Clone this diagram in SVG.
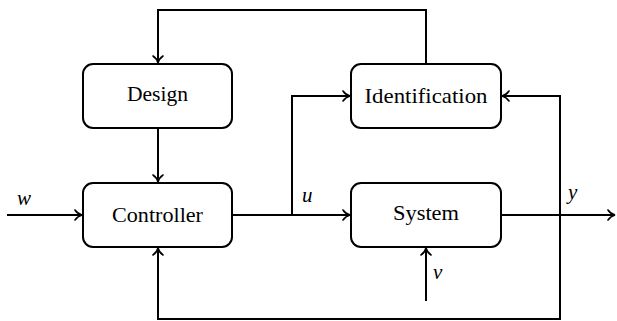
<svg xmlns="http://www.w3.org/2000/svg" width="617" height="321" viewBox="0 0 617 321">
<style>
.box{fill:#fff;stroke:#000;stroke-width:2}
.lbl{font-family:"Liberation Serif","Times New Roman","DejaVu Serif",serif;font-size:21px;fill:#000}
.math{font-family:"Liberation Serif","Times New Roman","DejaVu Serif",serif;font-size:21px;font-style:italic;fill:#000}
.c{fill:none;stroke:#000;stroke-width:2}
</style>
<defs>
<marker id="arr" viewBox="-8 -6 10 12" refX="1" refY="0" markerWidth="10" markerHeight="12" markerUnits="userSpaceOnUse" orient="auto">
<path d="M-6,-5 C-4,-2 -1,-0.5 1,0 C-1,0.5 -4,2 -6,5" fill="none" stroke="#000" stroke-width="1.6" stroke-linecap="round"/>
</marker>
</defs>
<g id="connectors">
<path class="c" d="M426,64 V10 H158 V63" marker-end="url(#arr)"/>
<path class="c" d="M158,128 V182" marker-end="url(#arr)"/>
<path class="c" d="M7,215 H82" marker-end="url(#arr)"/>
<path class="c" d="M232,215 H350" marker-end="url(#arr)"/>
<path class="c" d="M292,215 V96 H350" marker-end="url(#arr)"/>
<path class="c" d="M501,215 H615" marker-end="url(#arr)"/>
<path class="c" d="M560,215 V96 H502" marker-end="url(#arr)"/>
<path class="c" d="M560,215 V319 H158 V248" marker-end="url(#arr)"/>
<path class="c" d="M426,301 V248" marker-end="url(#arr)"/>
</g>
<g id="design">
<rect class="box" x="83" y="64" width="149" height="64" rx="10"/>
<text class="lbl" x="157.5" y="101" text-anchor="middle" textLength="61" lengthAdjust="spacingAndGlyphs">Design</text>
</g>
<g id="identification">
<rect class="box" x="351" y="64" width="150" height="64" rx="10"/>
<text class="lbl" x="426" y="103" text-anchor="middle" textLength="123" lengthAdjust="spacingAndGlyphs">Identification</text>
</g>
<g id="controller">
<rect class="box" x="83" y="183" width="149" height="64" rx="10"/>
<text class="lbl" x="157.5" y="222" text-anchor="middle" textLength="91" lengthAdjust="spacingAndGlyphs">Controller</text>
</g>
<g id="system">
<rect class="box" x="351" y="183" width="150" height="64" rx="10"/>
<text class="lbl" x="426" y="220" text-anchor="middle" textLength="66" lengthAdjust="spacingAndGlyphs">System</text>
</g>
<g id="labels">
<text class="math" x="17" y="205">w</text>
<text class="math" x="302" y="202">u</text>
<text class="math" x="568" y="199">y</text>
<text class="math" x="433" y="279">v</text>
</g>
</svg>
